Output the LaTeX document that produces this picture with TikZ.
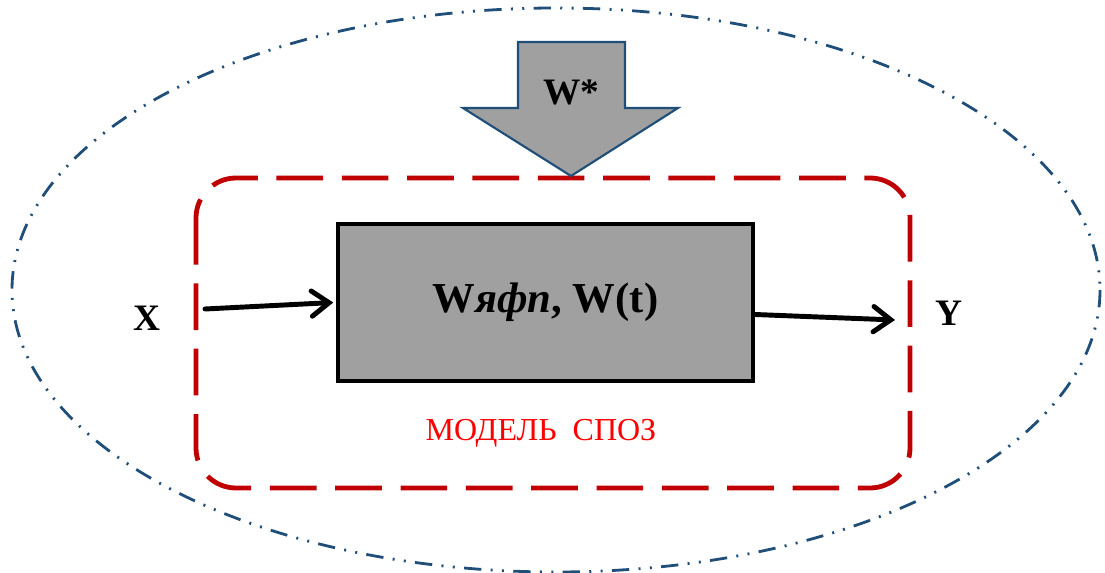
\documentclass[tikz,border=0pt]{standalone}
\usepackage{fontspec}
\setmainfont{Liberation Serif}
\usetikzlibrary{arrows.meta}
\definecolor{frameblue}{HTML}{1F4E79}
\definecolor{modelred}{HTML}{C00000}
\definecolor{boxgray}{HTML}{A0A0A0}
\begin{document}
\begin{tikzpicture}[x=0.75pt, y=-0.75pt,
		flow/.style={line width=3.7pt, line cap=round, -{Straight Barb[length=13pt, width=19pt, line cap=round]}},
		label/.style={font=\fontsize{28}{30}\selectfont\bfseries, inner sep=0pt}]
		%%%%% START %%%%%
		
		\useasboundingbox (0, 0) rectangle (1105, 573);
		
		% outer environment
		\draw[line width=2.1pt, color=frameblue, dash pattern=on 13pt off 7pt on 1.5pt off 7pt on 1.5pt off 7pt] (556, 290) ellipse [x radius=544, y radius=282];
		
		% model frame
		\draw[line width=3.6pt, color=modelred, rounded corners=30pt, dash pattern=on 35pt off 14pt] (196, 178) rectangle (910, 488);
		\node[color=red, font=\fontsize{24}{27}\selectfont, inner sep=0pt] (model) at (541, 433) {МОДЕЛЬ~~СПОЗ};
		
		% input arrow W*
		\draw[line width=1.6pt, color=frameblue, fill=boxgray, line join=miter] (518, 42) -- (625, 42) -- (625, 108) -- (678, 108) -- (571, 176) -- (463, 108) -- (518, 108) -- cycle;
		\node[label] (wstar) at (571, 92) {W*};
		
		% system block
		\node[draw=black, line width=3.4pt, fill=boxgray, minimum width=311pt, minimum height=118pt,
			font=\fontsize{32}{36}\selectfont\bfseries] (sys) at (545.5, 302.5) {W\textit{яфп}, W(t)};
		
		\node[label] (X) at (147, 318) {X};
		\node[label] (Y) at (949, 313) {Y};
		
		\coordinate (xin) at (205, 309);
		\coordinate (yout) at (895, 320);
		\draw[flow] (xin) -- ([xshift=-2pt]sys.west);
		\draw[flow] ([yshift=-9pt]sys.east) -- (yout);
		
		%%%%% END %%%%%
	\end{tikzpicture}
\end{document}
